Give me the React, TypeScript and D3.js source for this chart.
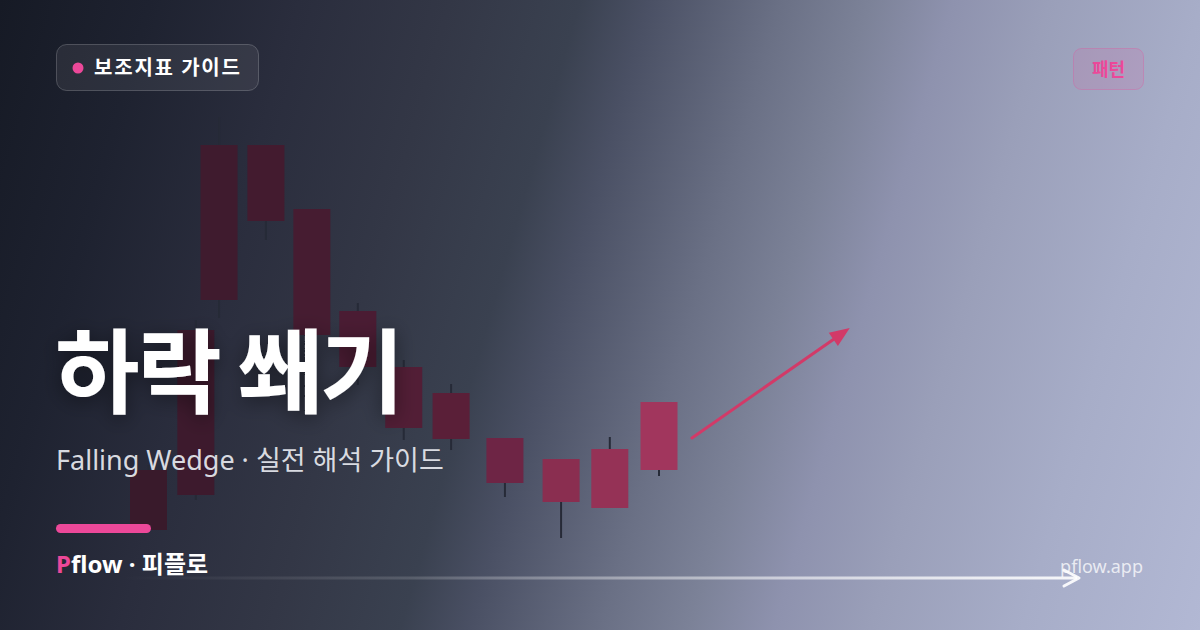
import React from "react";
import * as d3 from "d3";

// ---- data ----
const candleT = [0, 1.02, 1.52, 2.53, 3.52, 4.51, 5.5, 6.52, 7.68, 8.89, 9.94, 11.0];
const openVals = [22, 50, 87, 87, 74.2, 53.8, 42.6, 37.4, 28.4, 24.2, 26.2, 35.6];
const highVals = [23, 52, 92.6, 87, 74.2, 55.4, 44, 39.2, 28.4, 24.2, 28.6, 35.6];
const lowVals = [10, 16, 52.4, 68, 46, 39, 28, 26, 16.6, 8.4, 14.4, 20.8];
const closeVals = [10, 17, 56, 71.8, 49, 42.6, 30.4, 28.2, 19.4, 15.6, 14.4, 22];
const arrowT = [11.71, 15.11];
const arrowV = [28.4, 50.4];

const badgeLabel = "보조지표 가이드";
const tagLabel = "패턴";
const titleText = "하락 쐐기";
const subtitleText = "Falling Wedge · 실전 해석 가이드";
const brandP = "P";
const brandRest = "flow · 피플로";
const siteText = "pflow.app";

const W = 1200;
const H = 630;
const KR = "'Noto Sans CJK KR', 'Noto Sans', sans-serif";
const MIX = "'Noto Sans', 'Noto Sans CJK KR', sans-serif";

export default function App() {
  const x = d3.scaleLinear().domain([0, 11]).range([148.5, 659]);
  const y = d3.scaleLinear().domain([0, 100]).range([580, 80]);
  const color = d3
    .scaleLinear<string>()
    .domain([0, 4.5, 6.5, 7.68, 8.89, 11])
    .range(["#391a2b", "#4a1c33", "#5a1f38", "#6e2545", "#8a2e50", "#a1365d"])
    .interpolate(d3.interpolateRgb);
  const bw = 37;

  const bgStops: [number, string][] = [
    [0, "#161a25"],
    [0.109, "#1e2230"],
    [0.217, "#2a2d3d"],
    [0.326, "#333746"],
    [0.42, "#3a4150"],
    [0.47, "#4a5064"],
    [0.565, "#6a7085"],
    [0.63, "#7c8298"],
    [0.69, "#8e92ae"],
    [0.76, "#9a9fb9"],
    [0.87, "#a7adc8"],
    [1, "#b2b8d4"],
  ];

  const ax1 = x(arrowT[0]);
  const ay1 = y(arrowV[0]);
  const ax2 = x(arrowT[1]);
  const ay2 = y(arrowV[1]);
  const ang = Math.atan2(ay2 - ay1, ax2 - ax1);
  const headL = 20;
  const headW = 8;
  const bx = ax2 - headL * Math.cos(ang);
  const by = ay2 - headL * Math.sin(ang);
  const head = [
    [ax2, ay2],
    [bx + headW * Math.sin(ang), by - headW * Math.cos(ang)],
    [bx - headW * Math.sin(ang), by + headW * Math.cos(ang)],
  ];

  return (
    <svg
      width={W}
      height={H}
      viewBox={`0 0 ${W} ${H}`}
      style={{ position: "absolute", left: 0, top: 0, display: "block" }}
    >
      <defs>
        <linearGradient id="bg" gradientUnits="userSpaceOnUse" x1={0} y1={0} x2={1277} y2={365}>
          {bgStops.map(([o, c], i) => (
            <stop key={i} offset={o} stopColor={c} />
          ))}
        </linearGradient>
        <linearGradient id="baseLine" gradientUnits="userSpaceOnUse" x1={122} y1={0} x2={1080} y2={0}>
          <stop offset={0} stopColor="#ffffff" stopOpacity={0} />
          <stop offset={0.3} stopColor="#ffffff" stopOpacity={0.15} />
          <stop offset={1} stopColor="#ffffff" stopOpacity={0.9} />
        </linearGradient>
        <filter id="shadow" x="-20%" y="-40%" width="140%" height="180%">
          <feDropShadow dx={0} dy={4} stdDeviation={10} floodColor="#000000" floodOpacity={0.45} />
        </filter>
      </defs>

      <rect x={0} y={0} width={W} height={H} fill="url(#bg)" />

      {/* candles */}
      <g>
        {candleT.map((t, i) => {
          const cx = x(t);
          const top = y(Math.max(openVals[i], closeVals[i]));
          const bot = y(Math.min(openVals[i], closeVals[i]));
          return (
            <g key={i}>
              <line
                x1={cx}
                x2={cx}
                y1={y(highVals[i])}
                y2={y(lowVals[i])}
                stroke="#262a37"
                strokeWidth={2}
              />
              <rect x={cx - bw / 2} y={top} width={bw} height={bot - top} fill={color(t)} />
            </g>
          );
        })}
      </g>

      {/* breakout arrow */}
      <line x1={ax1} y1={ay1} x2={bx} y2={by} stroke="#d23a68" strokeWidth={3} strokeLinecap="round" />
      <polygon points={head.map((p) => p.join(",")).join(" ")} fill="#d23a68" />

      {/* badge */}
      <rect x={56.5} y={44.5} width={202} height={46} rx={10} fill="#ffffff" fillOpacity={0.07} stroke="#ffffff" strokeOpacity={0.2} />
      <circle cx={78} cy={68} r={5.5} fill="#ec4899" />
      <text x={94} y={75} fontFamily={KR} fontWeight={700} fontSize={20} letterSpacing={1.8} fill="#ffffff">
        {badgeLabel}
      </text>

      {/* tag */}
      <rect x={1073.5} y={48.5} width={70} height={41} rx={8} fill="#ec4899" fillOpacity={0.12} stroke="#ec4899" strokeOpacity={0.3} />
      <text x={1108.5} y={75.5} textAnchor="middle" fontFamily={KR} fontWeight={700} fontSize={18} fill="#ec4899">
        {tagLabel}
      </text>

      {/* title */}
      <text x={55} y={406} fontFamily={KR} fontWeight={700} fontSize={92} letterSpacing={-2.5} fill="#ffffff" filter="url(#shadow)">
        {titleText}
      </text>

      {/* subtitle */}
      <text x={56} y={470} fontFamily={MIX} fontWeight={400} fontSize={27} fill="#e4e6ec" fillOpacity={0.95}>
        {subtitleText}
      </text>

      {/* accent bar */}
      <rect x={56} y={524} width={95} height={9} rx={4.5} fill="#ec4899" />

      {/* baseline arrow */}
      <line x1={122} y1={578} x2={1077} y2={578} stroke="url(#baseLine)" strokeWidth={3} />
      <polyline points="1064,570 1079,578 1064,586" fill="none" stroke="#ffffff" strokeOpacity={0.9} strokeWidth={3} strokeLinecap="round" strokeLinejoin="round" />

      {/* brand */}
      <text x={56} y={573} fontFamily={MIX} fontWeight={700} fontSize={24} fill="#ffffff">
        <tspan fill="#ec4899">{brandP}</tspan>
        <tspan>{brandRest}</tspan>
      </text>

      <text x={1143} y={573} textAnchor="end" fontFamily={MIX} fontWeight={400} fontSize={18} fill="#ffffff" fillOpacity={0.75}>
        {siteText}
      </text>
    </svg>
  );
}
